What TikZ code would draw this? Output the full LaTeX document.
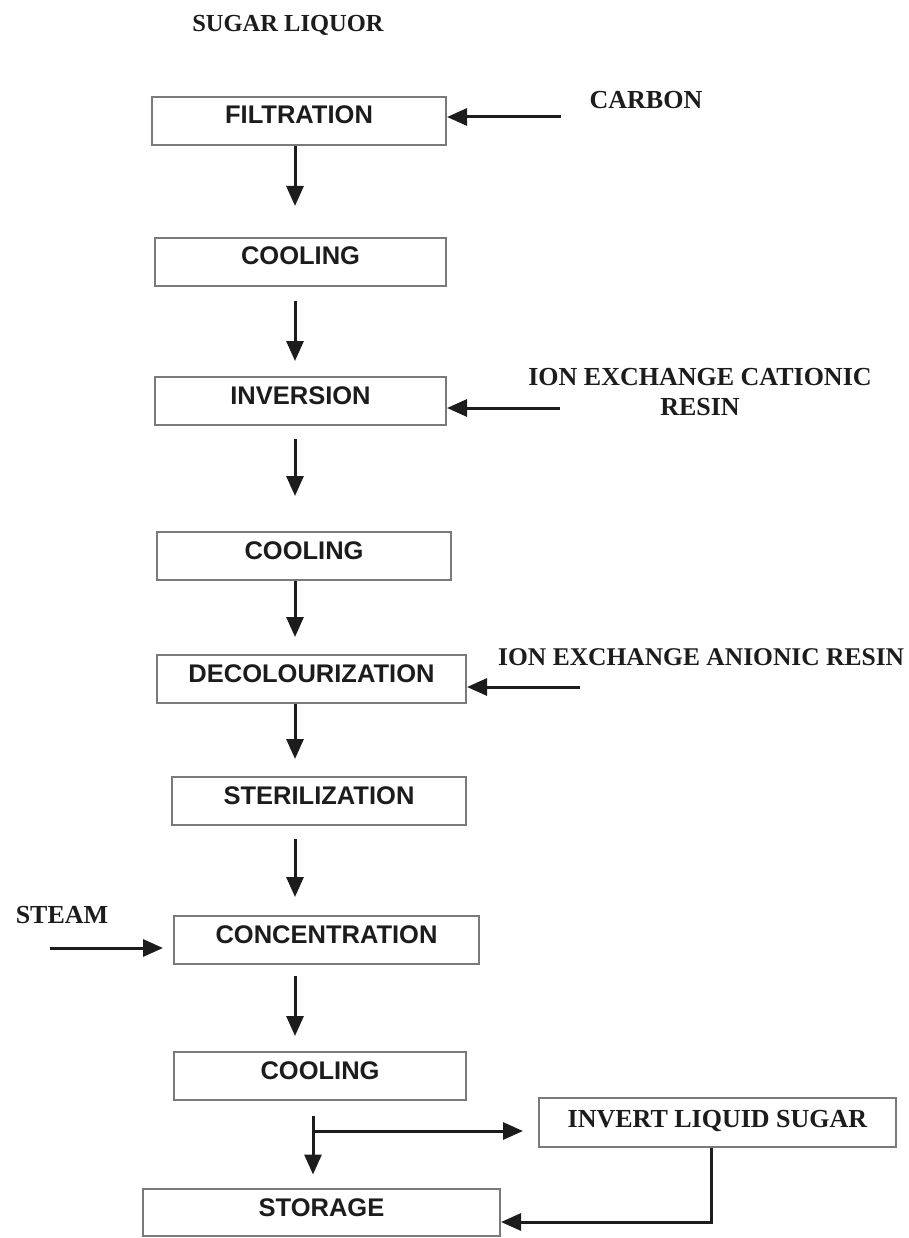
\documentclass[tikz,border=0pt]{standalone}
\usepackage{fontspec}
\setmainfont{Liberation Serif}
\newfontfamily\boxfont{Liberation Sans}
\usetikzlibrary{arrows.meta}
\definecolor{ink}{HTML}{1C1C1C}
\definecolor{edge}{HTML}{7A7A7A}
\begin{document}
\begin{tikzpicture}[x=1pt,y=-1pt,
  stepbox/.style={draw=edge,line width=2pt,fill=white,inner sep=0pt,
    text height=27pt,text depth=21pt,text=ink,
    font=\boxfont\fontsize{25.5}{28}\selectfont\bfseries},
  lbl/.style={inner sep=0pt,text=ink,align=center,
    font=\fontsize{26}{30}\selectfont\bfseries},
  flow/.style={draw=ink,line width=3pt,
    -{Triangle[length=20pt,width=17pt]}},
  plain/.style={draw=ink,line width=3pt}]
\useasboundingbox (0,0) rectangle (909,1238);

% process steps
\node[stepbox,minimum width=294pt] (filt)    at (299,121)   {FILTRATION};
\node[stepbox,minimum width=291pt] (cool1)   at (300.5,262) {COOLING};
\node[stepbox,minimum width=291pt] (inv)     at (300.5,401) {INVERSION};
\node[stepbox,minimum width=294pt] (cool2)   at (304,556)   {COOLING};
\node[stepbox,minimum width=309pt] (decol)   at (311.5,679) {DECOLOURIZATION};
\node[stepbox,minimum width=294pt] (steril)  at (319,801)   {STERILIZATION};
\node[stepbox,minimum width=305pt] (conc)    at (326.5,940) {CONCENTRATION};
\node[stepbox,minimum width=292pt] (cool3)   at (320,1076)  {COOLING};
\node[stepbox,minimum width=357pt,text height=30pt,text depth=19pt,
      font=\fontsize{26}{28}\selectfont\bfseries] (invert) at (717.5,1122) {INVERT LIQUID SUGAR};
\node[stepbox,minimum width=357pt,text height=28pt,text depth=19pt] (storage) at (321.5,1212) {STORAGE};

% inputs
\node[lbl,font=\fontsize{24.5}{30}\selectfont\bfseries] (sugar) at (288,25) {SUGAR LIQUOR};
\node[lbl] (carbon) at (646,100) {CARBON};
\node[lbl] (cation) at (700,392) {ION EXCHANGE CATIONIC\\RESIN};
\node[lbl,anchor=west,font=\fontsize{25.5}{30}\selectfont\bfseries] (anion) at (498,657) {ION EXCHANGE ANIONIC RESIN};
\node[lbl] (steam)  at (62,915)  {STEAM};

% free ends of the feed lines
\coordinate (spine)  at (295,0);
\coordinate (split)  at (313,1131);
\coordinate (cfeed)  at (561,117);
\coordinate (kfeed)  at (560,408);
\coordinate (afeed)  at (580,687);
\coordinate (sfeed)  at (50,948);
\coordinate (ret)    at (711,1222);

% main line
\draw[flow,shorten >=31pt] (filt.south -| spine) -- (cool1.north -| spine);
\draw[flow,shorten <=14pt,shorten >=15pt] (cool1.south -| spine) -- (inv.north -| spine);
\draw[flow,shorten <=13pt,shorten >=35pt] (inv.south -| spine) -- (cool2.north -| spine);
\draw[flow,shorten >=17pt] (cool2.south -| spine) -- (decol.north -| spine);
\draw[flow,shorten >=17pt] (decol.south -| spine) -- (steril.north -| spine);
\draw[flow,shorten <=13pt,shorten >=18pt] (steril.south -| spine) -- (conc.north -| spine);
\draw[flow,shorten <=11pt,shorten >=15pt] (conc.south -| spine) -- (cool3.north -| spine);
\draw[flow,shorten <=15pt,shorten >=13pt] (cool3.south -| split) -- (storage.north -| split);
\draw[flow,shorten >=15pt] (split) -- (split -| invert.west);
\draw[flow] (invert.south -| ret) |- (ret -| storage.east);

% feeds
\draw[flow] (cfeed) -- (cfeed -| filt.east);
\draw[flow] (kfeed) -- (kfeed -| inv.east);
\draw[flow] (afeed) -- (afeed -| decol.east);
\draw[flow,shorten >=10pt] (sfeed) -- (sfeed -| conc.west);
\end{tikzpicture}
\end{document}
